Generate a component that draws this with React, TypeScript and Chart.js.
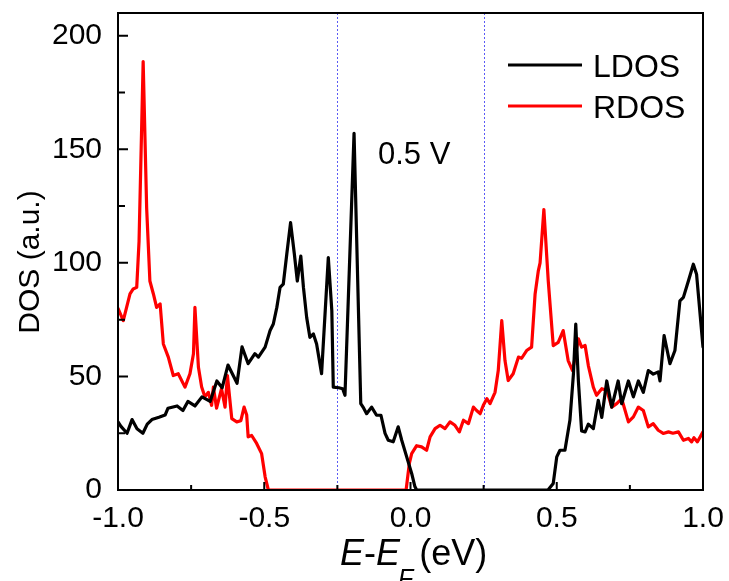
import { useEffect, useRef } from "react";
import { Chart, registerables } from "chart.js";

Chart.register(...registerables);

// ---------- data ----------
const ldosE = [
  -1.0, -0.99, -0.969, -0.952, -0.935, -0.915, -0.9, -0.884, -0.86, -0.839, -0.829, -0.798, -0.778, -0.761,
  -0.737, -0.713, -0.685, -0.662, -0.644, -0.624, -0.593, -0.576, -0.555, -0.532, -0.52, -0.497, -0.48,
  -0.469, -0.457, -0.446, -0.435, -0.423, -0.41, -0.397, -0.387, -0.375, -0.366, -0.355, -0.344, -0.332,
  -0.321, -0.304, -0.281, -0.269, -0.264, -0.245, -0.232, -0.224, -0.193, -0.17, -0.16, -0.15, -0.133,
  -0.116, -0.101, -0.087, -0.076, -0.059, -0.042, -0.03, -0.013, 0.004, 0.015, 0.021, 0.47, 0.488, 0.5,
  0.511, 0.528, 0.545, 0.557, 0.565, 0.574, 0.585, 0.597, 0.608, 0.625, 0.642, 0.654, 0.671, 0.688, 0.71,
  0.722, 0.745, 0.762, 0.779, 0.796, 0.813, 0.83, 0.847, 0.853, 0.867, 0.887, 0.904, 0.921, 0.933, 0.95,
  0.967, 0.978, 1.0,
];
const ldosV = [
  30, 28, 25, 31, 27, 25, 29, 31, 32, 33, 36, 37, 35, 39,
  37, 41, 39, 48, 45, 55, 47, 63, 55.6, 60, 58.5, 62.9, 70.2,
  73.1, 80.4, 89.2, 90.6, 103.8, 117.7, 103.8, 92, 103, 89.2, 76, 67.2, 68.7,
  64.3, 51.2, 102.3, 79, 45.3, 45, 44.6, 41.7, 157, 38, 36, 33.6, 36.5,
  32.9, 32.9, 24.9, 21.9, 21.2, 27.8, 21.9, 14.6, 7.3, 1.5, 0, 0, 2.9, 14.6,
  17.5, 17.5, 30.7, 51, 73, 48, 26, 25.6, 29, 27, 39.5, 32, 48, 36.5, 48,
  38, 48, 41, 48, 43, 52.6, 51, 52, 48, 68, 55.6, 61.4, 83.3, 84.8, 92,
  99.4, 95, 62.9,
];

const rdosE = [
  -1.0, -0.982, -0.959, -0.948, -0.936, -0.928, -0.914, -0.902, -0.891, -0.879, -0.868, -0.856, -0.845,
  -0.828, -0.811, -0.794, -0.771, -0.754, -0.742, -0.737, -0.725, -0.714, -0.703, -0.691, -0.68, -0.674,
  -0.663, -0.646, -0.634, -0.626, -0.611, -0.594, -0.58, -0.569, -0.56, -0.555, -0.543, -0.526, -0.509,
  -0.497, -0.486, -0.015, -0.004, 0.004, 0.021, 0.038, 0.055, 0.067, 0.084, 0.101, 0.118, 0.135, 0.152,
  0.167, 0.181, 0.198, 0.215, 0.226, 0.238, 0.249, 0.261, 0.272, 0.289, 0.3, 0.312, 0.323, 0.334, 0.351,
  0.369, 0.38, 0.397, 0.414, 0.426, 0.437, 0.443, 0.456, 0.471, 0.488, 0.505, 0.522, 0.539, 0.554, 0.565,
  0.574, 0.585, 0.597, 0.608, 0.625, 0.636, 0.654, 0.671, 0.688, 0.705, 0.722, 0.745, 0.762, 0.779, 0.796,
  0.813, 0.83, 0.847, 0.864, 0.882, 0.897, 0.916, 0.933, 0.95, 0.961, 0.969, 0.981, 1.0,
];
const rdosV = [
  80, 74.6, 86.3, 88.5, 89.2, 109.6, 188.6, 124, 92, 86.3, 80.4, 81.9, 64.3,
  58.5, 50.4, 51.2, 45.3, 51.2, 60, 80.4, 54, 45.3, 41, 43, 37.3, 45.3,
  36, 44.6, 36.5, 50.4, 31.4, 30, 30.5, 36.5, 33, 23.4, 24, 20.5, 16,
  5.8, 0, 0, 11.7, 16, 19.5, 19, 17.5, 23.4, 27, 28.5, 27, 30, 28.5,
  25.6, 30.7, 29.2, 36.5, 35, 33.6, 37.3, 40.2, 38, 43, 52.6, 74.6, 57, 48.2, 51.2,
  58.5, 58, 61.4, 62.9, 86.3, 96.5, 100, 123.5, 92, 63.6, 65, 70.2, 57, 52.6, 60,
  66.5, 62.9, 63.6, 54.8, 45.3, 41.7, 44.6, 43.9, 36.5, 38, 40.2, 30, 32.2, 36.5, 35,
  27.8, 29.2, 26.3, 24.9, 25.6, 25, 25.6, 21.9, 22.7, 21.2, 23, 21.2, 25.6,
];

const seriesNames = ["LDOS", "RDOS"];
const seriesColors = ["#000000", "#ff0000"];
const xTicks = [-1, -0.5, 0, 0.5, 1];
const xMinorTicks = [-0.75, -0.25, 0.25, 0.75];
const yTicks = [0, 50, 100, 150, 200];
const yMinorTicks = [25, 75, 125, 175];
const biasWindow = [-0.25, 0.25];
const annotationText = "0.5 V";
const yTitle = "DOS (a.u.)";

const FONT = "'Liberation Sans', Arial, Helvetica, sans-serif";

const decorPlugin = {
  id: "decor",
  beforeDatasetsDraw(chart: any) {
    const { ctx, chartArea: a, scales } = chart;
    const x = scales.x;
    ctx.save();
    ctx.strokeStyle = "#5a5af5";
    ctx.lineWidth = 1;
    ctx.setLineDash([2, 2]);
    biasWindow.forEach((v) => {
      const px = Math.round(x.getPixelForValue(v)) + 0.5;
      ctx.beginPath();
      ctx.moveTo(px, a.top);
      ctx.lineTo(px, a.bottom);
      ctx.stroke();
    });
    ctx.restore();
  },
  afterDraw(chart: any) {
    const { ctx, chartArea: a, scales } = chart;
    const x = scales.x;
    const y = scales.y;
    ctx.save();
    // frame
    ctx.strokeStyle = "#000";
    ctx.lineWidth = 2;
    ctx.strokeRect(a.left, a.top, a.right - a.left, a.bottom - a.top);
    // inward ticks
    ctx.beginPath();
    yTicks.forEach((v) => {
      const py = y.getPixelForValue(v);
      ctx.moveTo(a.left, py);
      ctx.lineTo(a.left + 10, py);
    });
    yMinorTicks.forEach((v) => {
      const py = y.getPixelForValue(v);
      ctx.moveTo(a.left, py);
      ctx.lineTo(a.left + 7, py);
    });
    xTicks.forEach((v) => {
      const px = x.getPixelForValue(v);
      ctx.moveTo(px, a.bottom);
      ctx.lineTo(px, a.bottom - 8);
    });
    xMinorTicks.forEach((v) => {
      const px = x.getPixelForValue(v);
      ctx.moveTo(px, a.bottom);
      ctx.lineTo(px, a.bottom - 5);
    });
    ctx.stroke();

    // legend
    ctx.fillStyle = "#000";
    ctx.font = `32px ${FONT}`;
    ctx.textBaseline = "alphabetic";
    ctx.textAlign = "left";
    const legY = [65, 106];
    seriesNames.forEach((name, i) => {
      ctx.strokeStyle = seriesColors[i];
      ctx.lineWidth = 3.2;
      ctx.beginPath();
      ctx.moveTo(508, legY[i]);
      ctx.lineTo(582, legY[i]);
      ctx.stroke();
      ctx.fillText(name, 593, legY[i] + 12);
    });

    // annotation
    ctx.font = `31px ${FONT}`;
    ctx.fillText(annotationText, 378, 164);

    // y title
    ctx.save();
    ctx.translate(31, 262);
    ctx.rotate(-Math.PI / 2);
    ctx.font = `30px ${FONT}`;
    ctx.textAlign = "center";
    ctx.textBaseline = "middle";
    ctx.fillText(yTitle, 0, 0);
    ctx.restore();

    // x title: E-E_F (eV)
    let cx = 340;
    const base = 565;
    ctx.textAlign = "left";
    ctx.textBaseline = "alphabetic";
    ctx.font = `italic 36px ${FONT}`;
    ctx.fillText("E", cx, base);
    cx += ctx.measureText("E").width;
    ctx.font = `36px ${FONT}`;
    ctx.fillText("-", cx, base);
    cx += ctx.measureText("-").width;
    ctx.font = `italic 36px ${FONT}`;
    ctx.fillText("E", cx, base);
    cx += ctx.measureText("E").width - 2;
    ctx.font = `italic 25px ${FONT}`;
    ctx.fillText("F", cx, base + 22);
    cx += ctx.measureText("F").width + 6;
    ctx.font = `36px ${FONT}`;
    ctx.fillText("(eV)", cx, base);
    ctx.restore();
  },
};

export default function App() {
  const ref = useRef<HTMLCanvasElement | null>(null);
  useEffect(() => {
    if (!ref.current) return;
    const chart = new Chart(ref.current, {
      type: "line",
      data: {
        datasets: [
          {
            label: seriesNames[0],
            data: ldosE.map((e, i) => ({ x: e, y: ldosV[i] })),
            borderColor: seriesColors[0],
            borderWidth: 3.2,
            borderJoinStyle: "round",
            borderCapStyle: "round",
            pointRadius: 0,
            tension: 0,
            fill: false,
          },
          {
            label: seriesNames[1],
            data: rdosE.map((e, i) => ({ x: e, y: rdosV[i] })),
            borderColor: seriesColors[1],
            borderWidth: 3.2,
            borderJoinStyle: "round",
            borderCapStyle: "round",
            pointRadius: 0,
            tension: 0,
            fill: false,
          },
        ],
      },
      options: {
        responsive: false,
        animation: false,
        events: [],
        layout: { padding: { left: 0, right: 26, top: 13, bottom: 0 } },
        plugins: { legend: { display: false }, tooltip: { enabled: false } },
        scales: {
          x: {
            type: "linear",
            min: -1,
            max: 1,
            grid: { display: false, drawTicks: false, tickLength: 0 },
            border: { display: false },
            ticks: {
              color: "#000",
              font: { family: FONT, size: 30 },
              padding: 11,
              maxRotation: 0,
              autoSkip: false,
              callback: (v: any) => Number(v).toFixed(1),
            },
            afterBuildTicks: (s: any) => {
              s.ticks = xTicks.map((v) => ({ value: v }));
            },
            afterFit: (s: any) => {
              s.height = 91;
              s.paddingLeft = 0;
              s.paddingRight = 0;
              s.paddingTop = 0;
              s.paddingBottom = 0;
            },
          },
          y: {
            type: "linear",
            min: 0,
            max: 210,
            grid: { display: false, drawTicks: false, tickLength: 0 },
            border: { display: false },
            ticks: {
              color: "#000",
              font: { family: FONT, size: 30 },
              padding: 16,
              callback: (v: any) => String(v),
            },
            afterBuildTicks: (s: any) => {
              s.ticks = yTicks.map((v) => ({ value: v }));
            },
            afterFit: (s: any) => {
              s.width = 118;
              s.paddingLeft = 0;
              s.paddingRight = 0;
              s.paddingTop = 0;
              s.paddingBottom = 0;
            },
          },
        },
      },
      plugins: [decorPlugin],
    });
    return () => chart.destroy();
  }, []);
  return (
    <div style={{ position: "absolute", left: 0, top: 0, width: 729, height: 581, background: "#fff" }}>
      <canvas ref={ref} width={729} height={581} style={{ display: "block" }} />
    </div>
  );
}
